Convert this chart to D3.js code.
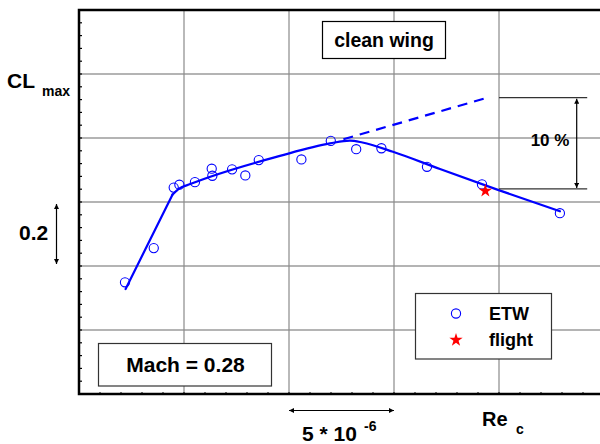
<!DOCTYPE html>
<html>
<head>
<meta charset="utf-8">
<script src="https://cdn.jsdelivr.net/npm/d3@7"></script>
<style>
  body { margin: 0; background: #fff; }
  text { font-family: "Liberation Sans", Arial, sans-serif; font-weight: bold; fill: #000; }
</style>
</head>
<body>
<div id="chart"></div>
<script>
// ETW measurements (Re in 10^6, CLmax)
var etwRe = [2.19, 3.56, 4.51, 4.78, 5.52, 6.32, 6.35, 7.29, 7.92, 8.56, 10.59, 11.99, 13.20, 14.40, 16.57, 19.19, 22.90];
var etwCl = [2.249, 2.356, 2.545, 2.554, 2.562, 2.604, 2.582, 2.602, 2.583, 2.631, 2.633, 2.691, 2.665, 2.668, 2.610, 2.555, 2.465];

// flight point
var flightRe = [19.35];
var flightCl = [2.535];

// faired curve: straight rise, then smooth part
var riseRe = [2.22, 4.45];
var riseCl = [2.228, 2.523];
var fitRe = [4.45, 4.75, 5.3, 9.57, 11.95, 12.9, 13.5, 14.95, 17.19, 19.95, 22.9];
var fitCl = [2.523, 2.541, 2.556, 2.644, 2.683, 2.692, 2.686, 2.657, 2.603, 2.538, 2.471];

// dashed extrapolation
var extRe = [12.59, 19.44];
var extCl = [2.696, 2.826];

// grid
var xGrid = [5, 10, 15, 20];
var yGrid = [2.1, 2.3, 2.5, 2.7, 2.9];

var svgWidth = 600;
var svgHeight = 444;

var svg = d3.select("#chart")
  .append("svg")
  .attr("width", svgWidth)
  .attr("height", svgHeight);

var x = d3.scaleLinear().domain([0, 25]).range([79, 604]);
var y = d3.scaleLinear().domain([1.9, 3.1]).range([394, 10]);

// markers for dimension arrows
var defs = svg.append("defs");
defs.append("marker")
  .attr("id", "head")
  .attr("viewBox", "0 0 10 10")
  .attr("refX", 10).attr("refY", 5)
  .attr("markerWidth", 9).attr("markerHeight", 5)
  .attr("markerUnits", "userSpaceOnUse")
  .attr("orient", "auto-start-reverse")
  .append("path")
  .attr("d", "M0,0 L10,5 L0,10 Z")
  .attr("fill", "#000");

// grid lines
svg.append("g").selectAll("line")
  .data(yGrid).enter().append("line")
  .attr("x1", x(0)).attr("x2", x(25))
  .attr("y1", d => y(d)).attr("y2", d => y(d))
  .attr("stroke", "#b4b4b4").attr("stroke-width", 2);

svg.append("g").selectAll("line")
  .data(xGrid).enter().append("line")
  .attr("x1", d => x(d)).attr("x2", d => x(d))
  .attr("y1", y(3.1)).attr("y2", y(1.9))
  .attr("stroke", "#8a8a8a").attr("stroke-width", 1.2);

// minor ticks (inside)
var yMinor = d3.range(1.94, 3.1, 0.04);
svg.append("g").selectAll("line")
  .data(yMinor).enter().append("line")
  .attr("x1", x(0)).attr("x2", x(0) + 3)
  .attr("y1", d => y(d)).attr("y2", d => y(d))
  .attr("stroke", "#000").attr("stroke-width", 1.2);

var xMinor = d3.range(1, 25, 1);
svg.append("g").selectAll("line")
  .data(xMinor).enter().append("line")
  .attr("x1", d => x(d)).attr("x2", d => x(d))
  .attr("y1", y(1.9)).attr("y2", y(1.9) - 2)
  .attr("stroke", "#000").attr("stroke-width", 1);

// frame
svg.append("rect")
  .attr("x", x(0)).attr("y", y(3.1))
  .attr("width", x(25) - x(0)).attr("height", y(1.9) - y(3.1))
  .attr("fill", "none").attr("stroke", "#000").attr("stroke-width", 2.5);

// faired line
var fitLine = d3.line()
  .x(d => x(d[0])).y(d => y(d[1]))
  .curve(d3.curveMonotoneX);

svg.append("path")
  .datum(d3.zip(riseRe, riseCl))
  .attr("d", d3.line().x(d => x(d[0])).y(d => y(d[1])))
  .attr("fill", "none").attr("stroke", "#0000ff").attr("stroke-width", 2.2)
  .attr("stroke-linejoin", "round").attr("stroke-linecap", "round");

svg.append("path")
  .datum(d3.zip(fitRe, fitCl))
  .attr("d", fitLine)
  .attr("fill", "none").attr("stroke", "#0000ff").attr("stroke-width", 2.2)
  .attr("stroke-linecap", "round");

svg.append("path")
  .datum(d3.zip(extRe, extCl))
  .attr("d", d3.line().x(d => x(d[0])).y(d => y(d[1])))
  .attr("fill", "none").attr("stroke", "#0000ff").attr("stroke-width", 2.2)
  .attr("stroke-dasharray", "10,7");

// ETW circles
svg.append("g").selectAll("circle")
  .data(d3.zip(etwRe, etwCl)).enter().append("circle")
  .attr("cx", d => x(d[0])).attr("cy", d => y(d[1]))
  .attr("r", 4.6)
  .attr("fill", "none").attr("stroke", "#0000ff").attr("stroke-width", 1.1);

// flight star
var star = d3.symbol().type(d3.symbolStar).size(55);
svg.append("g").selectAll("path")
  .data(d3.zip(flightRe, flightCl)).enter().append("path")
  .attr("d", star)
  .attr("transform", d => `translate(${x(d[0])},${y(d[1])})`)
  .attr("fill", "#ff0000");

// 10 % dimension
var topY = y(extCl[1]);
var botY = y(2.541);
svg.append("line")
  .attr("x1", x(20)).attr("x2", x(24.2)).attr("y1", topY).attr("y2", topY)
  .attr("stroke", "#333").attr("stroke-width", 1.2);
svg.append("line")
  .attr("x1", x(20)).attr("x2", x(24.2)).attr("y1", botY).attr("y2", botY)
  .attr("stroke", "#333").attr("stroke-width", 1.2);
svg.append("line")
  .attr("x1", x(23.7)).attr("x2", x(23.7)).attr("y1", topY + 1).attr("y2", botY - 1)
  .attr("stroke", "#000").attr("stroke-width", 1.2)
  .attr("marker-start", "url(#head)").attr("marker-end", "url(#head)");
svg.append("text")
  .attr("x", 550).attr("y", 146)
  .attr("text-anchor", "middle")
  .style("font-size", "17px")
  .text("10 %");

// clean wing box
svg.append("rect")
  .attr("x", 322.5).attr("y", 21.5).attr("width", 123).attr("height", 37)
  .attr("fill", "#fff").attr("stroke", "#000").attr("stroke-width", 1.2);
svg.append("text")
  .attr("x", 384).attr("y", 47)
  .attr("text-anchor", "middle")
  .style("font-size", "19.5px")
  .text("clean wing");

// Mach box
svg.append("rect")
  .attr("x", 98.5).attr("y", 343.5).attr("width", 173).attr("height", 42.5)
  .attr("fill", "#fff").attr("stroke", "#333").attr("stroke-width", 1.2);
svg.append("text")
  .attr("x", 185.5).attr("y", 372)
  .attr("text-anchor", "middle")
  .style("font-size", "21px")
  .text("Mach = 0.28");

// legend
svg.append("rect")
  .attr("x", 415.5).attr("y", 293.5).attr("width", 136).attr("height", 65.5)
  .attr("fill", "#fff").attr("stroke", "#333").attr("stroke-width", 1.2);
svg.append("circle")
  .attr("cx", 456).attr("cy", 313.5).attr("r", 4.6)
  .attr("fill", "none").attr("stroke", "#0000ff").attr("stroke-width", 1.1);
svg.append("path")
  .attr("d", star)
  .attr("transform", "translate(456,340)")
  .attr("fill", "#ff0000");
svg.append("text").attr("x", 489).attr("y", 319.5).style("font-size", "18px").text("ETW");
svg.append("text").attr("x", 489).attr("y", 345.5).style("font-size", "18px").text("flight");

// CLmax label
var cl = svg.append("text").attr("x", 7).attr("y", 87.5).style("font-size", "21px");
cl.append("tspan").text("CL");
cl.append("tspan").attr("x", 42).attr("y", 95.5).style("font-size", "14px").text("max");

// 0.2 scale bar
svg.append("text").attr("x", 19).attr("y", 239.5).style("font-size", "21px").text("0.2");
svg.append("line")
  .attr("x1", 56.5).attr("x2", 56.5).attr("y1", 204).attr("y2", 264)
  .attr("stroke", "#000").attr("stroke-width", 1.2)
  .attr("marker-start", "url(#head)").attr("marker-end", "url(#head)");

// Re scale bar
svg.append("line")
  .attr("x1", x(10)).attr("x2", x(15)).attr("y1", 410.5).attr("y2", 410.5)
  .attr("stroke", "#000").attr("stroke-width", 1.2)
  .attr("marker-start", "url(#head)").attr("marker-end", "url(#head)");
var re5 = svg.append("text").attr("x", 302).attr("y", 441).style("font-size", "21px");
re5.append("tspan").text("5 * 10");
re5.append("tspan").attr("x", 364).attr("y", 431).style("font-size", "14px").text("-6");

// Re_c label
var rec = svg.append("text").attr("x", 482).attr("y", 426).style("font-size", "20px");
rec.append("tspan").text("Re");
rec.append("tspan").attr("x", 516).attr("y", 434).style("font-size", "14px").text("c");
</script>
</body>
</html>
